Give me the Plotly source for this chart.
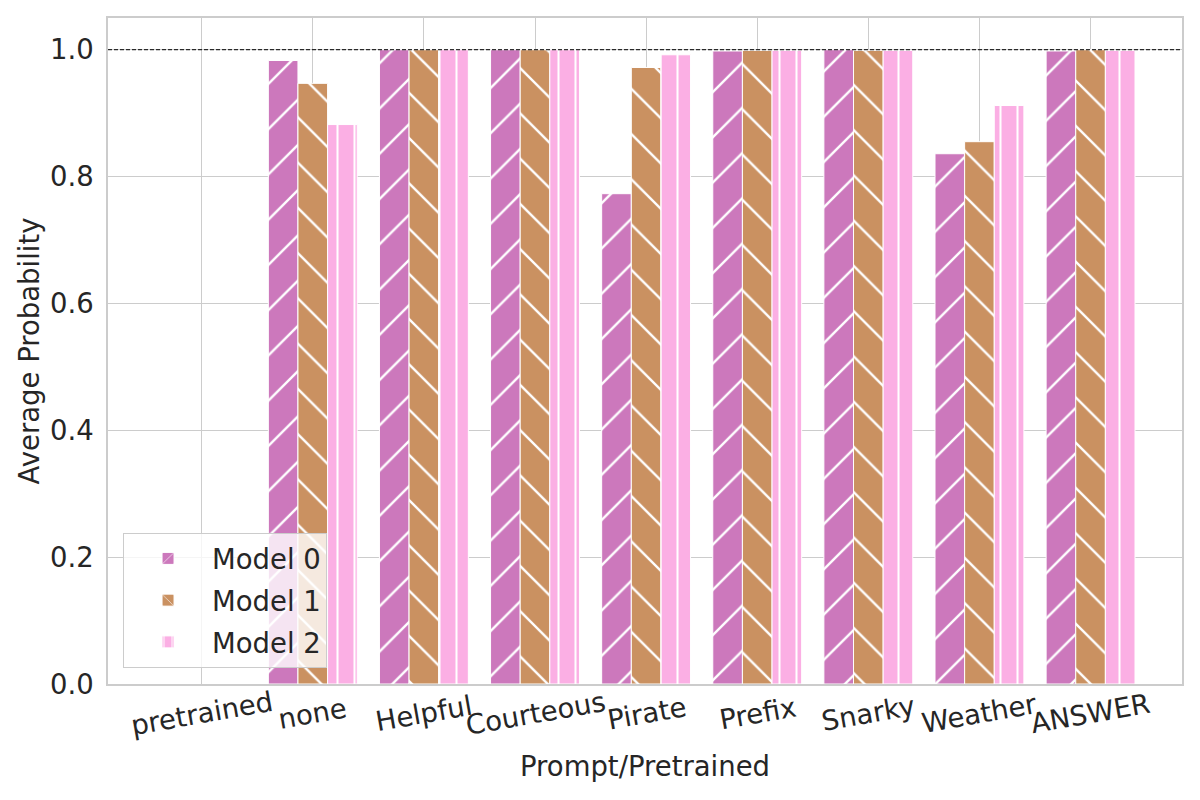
import plotly.graph_objects as go

categories = ["pretrained", "none", "Helpful", "Courteous", "Pirate", "Prefix", "Snarky", "Weather", "ANSWER"]
model0 = [None, 0.983, 1.000, 1.000, 0.773, 0.998, 1.000, 0.836, 0.998]
model1 = [None, 0.947, 1.000, 1.000, 0.972, 0.999, 0.999, 0.855, 1.000]
model2 = [None, 0.882, 1.000, 1.000, 0.992, 0.999, 0.999, 0.912, 0.999]
series_names = ["Model 0", "Model 1", "Model 2"]
series_values = [model0, model1, model2]
colors = ["#cc78bc", "#ca9161", "#fbafe4"]
patterns = ["/", "\\", "|"]
pattern_sizes = [32, 32, 17]
pattern_solid = [0.075, 0.075, 0.12]
y_ticks = [0.0, 0.2, 0.4, 0.6, 0.8, 1.0]
reference_level = 1.0

FONT = "DejaVu Sans"
TXT = "#262626"
GRID = "#cccccc"
FS = 27.5

fig = go.Figure()
for name, vals, c, p, s, so in zip(series_names, series_values, colors, patterns, pattern_sizes, pattern_solid):
    fig.add_trace(go.Bar(
        x=categories, y=vals, name=name, legendgroup=name,
        marker=dict(color=c, line=dict(color="white", width=1),
                    pattern=dict(shape=p, fgcolor="white", fgopacity=1, size=s, solidity=so)),
    ))

fig.add_shape(type="line", xref="paper", yref="y", x0=0, x1=1,
              y0=reference_level, y1=reference_level,
              line=dict(color="black", width=1, dash="4px,2px"), layer="above")

for cat in categories:
    fig.add_annotation(x=cat, xref="x", y=-0.043, yref="paper", text=cat,
                       showarrow=False, textangle=-10, xanchor="center", yanchor="middle",
                       font=dict(family=FONT, size=FS, color=TXT))

fig.add_annotation(x=0.5, xref="paper", y=-0.123, yref="paper", text="Prompt/Pretrained",
                   showarrow=False, xanchor="center", yanchor="middle",
                   font=dict(family=FONT, size=FS, color=TXT))

fig.update_layout(
    width=1192, height=792,
    margin=dict(l=100, r=18, t=10, b=116, autoexpand=False),
    paper_bgcolor="white", plot_bgcolor="white",
    barmode="group", bargap=0.2, bargroupgap=0,
    font=dict(family=FONT, size=FS, color=TXT),
    legend=dict(x=0.014, y=0.024, xanchor="left", yanchor="bottom",
                bgcolor="rgba(255,255,255,0.8)", bordercolor=GRID, borderwidth=1,
                itemwidth=78, tracegroupgap=3, traceorder="grouped",
                font=dict(family=FONT, size=FS, color=TXT)),
    xaxis=dict(range=[-0.843, 8.823], showticklabels=False, showgrid=True, gridcolor=GRID,
               gridwidth=1, showline=True, linecolor=GRID, linewidth=1.5, mirror=True,
               ticks="", zeroline=False),
    yaxis=dict(range=[0, 1.05], tickvals=y_ticks, ticktext=[f"{v:.1f}" for v in y_ticks],
               showgrid=True, gridcolor=GRID, gridwidth=1, showline=True, linecolor=GRID,
               linewidth=1.5, mirror=True, ticks="", zeroline=False, ticklabelstandoff=7,
               tickfont=dict(family=FONT, size=FS, color=TXT),
               title=dict(text="Average Probability", standoff=2,
                          font=dict(family=FONT, size=FS, color=TXT))),
)

fig.write_html("out.html")
